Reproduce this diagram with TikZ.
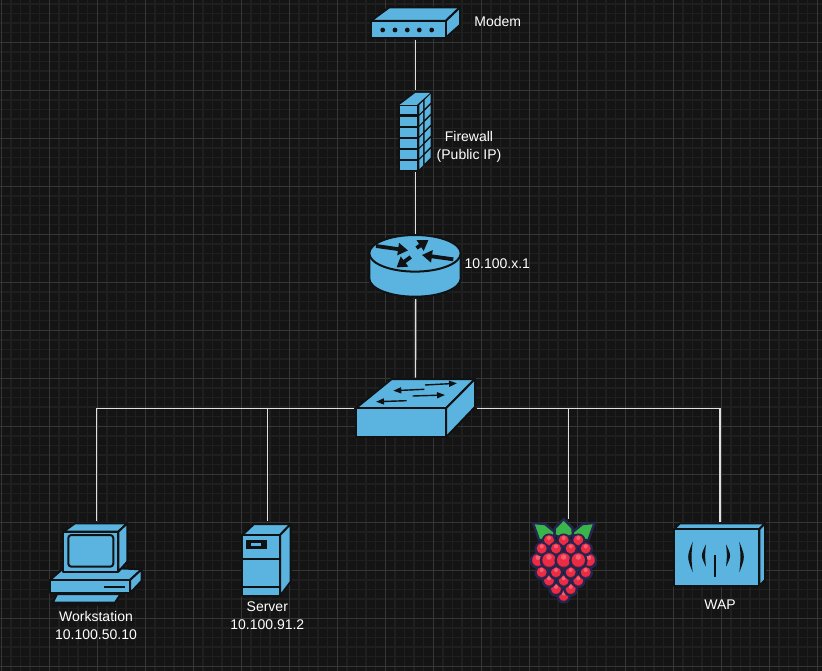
\documentclass[tikz,border=0pt]{standalone}
\usepackage{fontspec}
\setmainfont{Liberation Sans}
\usetikzlibrary{positioning}
\usetikzlibrary{arrows.meta}

\definecolor{bgdark}{HTML}{141414}
\definecolor{gridminor}{HTML}{1F1F1F}
\definecolor{gridmajor}{HTML}{363636}
\definecolor{iconblue}{HTML}{5AB4DF}
\definecolor{iconline}{HTML}{101214}
\definecolor{berryline}{HTML}{25264F}
\definecolor{berrydark}{HTML}{B51D38}
\definecolor{berryred}{HTML}{EC2B45}
\definecolor{berrypink}{HTML}{F4606F}
\definecolor{leafgreen}{HTML}{3AB54A}

\tikzset{
    hit/.style={inner sep=0pt, outer sep=0pt},
    body/.style={draw=iconline, fill=iconblue, line width=2pt, line join=round},
    link/.style={draw=white!88!black, line width=1.4pt},
    lbl/.style={text=white, align=center, inner sep=0pt, font=\fontsize{14}{18}\selectfont},
    bigflow/.style={draw=iconline, line width=3.8pt, -{Triangle[length=10pt,width=12pt]}},
    thinflow/.style={draw=iconline, line width=1.4pt, -{Triangle[length=8pt,width=6pt]}},
    leaf/.style={fill=leafgreen, draw=berryline, line width=2.4pt, line join=round}
}

\begin{document}
\begin{tikzpicture}[x=1pt, y=-1pt]
    \useasboundingbox (0,0) rectangle (822,671);
    \fill[bgdark] (0,0) rectangle (822,671);

    % grid
    \foreach \k in {0,...,85}
        \draw[gridminor, line width=1.4pt] (1.3+9.6*\k,0) -- (1.3+9.6*\k,671);
    \foreach \k in {-5,...,65}
        \draw[gridminor, line width=1.4pt] (0,42.3+9.6*\k) -- (822,42.3+9.6*\k);
    \foreach \k in {0,...,17}
        \draw[gridmajor, line width=0.8pt] (1.3+48*\k,0) -- (1.3+48*\k,671);
    \foreach \k in {-1,...,13}
        \draw[gridmajor, line width=0.8pt] (0,42.3+48*\k) -- (822,42.3+48*\k);

    % anchors for the connectors
    \node[hit, minimum width=92pt, minimum height=34pt]  (modem)       at (415.7,23)  {};
    \node[hit, minimum width=44pt, minimum height=82pt]  (firewall)    at (415.7,131) {};
    \node[hit, minimum width=92pt, minimum height=64pt]  (router)      at (415.7,267) {};
    \node[hit, minimum width=123pt, minimum height=62pt] (switch)      at (415.5,408.7) {};
    \node[hit, minimum width=92pt, minimum height=88pt]  (workstation) at (96.4,565)  {};
    \node[hit, minimum width=50pt, minimum height=78pt]  (server)      at (267.4,560) {};
    \node[hit, minimum width=60pt, minimum height=88pt]  (pi)          at (568.2,563) {};
    \node[hit, minimum width=92pt, minimum height=66pt]  (wap)         at (720,554.7) {};
    \coordinate (wapstub) at (720,498);

    \draw[link] (modem.south) -- (firewall.north);
    \draw[link] (firewall.south) -- (router.north);
    \draw[link] (router.south) -- (switch.north);
    \draw[link] (switch.west) -| (workstation.north);
    \draw[link] (switch.west) -| (server.north);
    \draw[link] (switch.east) -| (pi.north);
    \draw[link] (switch.east) -| (wap.north);
    \draw[link, line width=2.4pt] (wapstub) -- (wap.north);

    % modem
    \draw[body] (370.7,21) -- (389.3,7.3) -- (460,7.3) -- (445.7,21) -- cycle;
    \draw[body] (445.7,21) -- (460,7.3) -- (460,25) -- (445.7,37.7) -- cycle;
    \draw[body] (370.7,21) rectangle (445.7,37.7);
    \foreach \dx in {382.7,395,407.3,419.3,431.7}
        \fill[iconline] (\dx,30) circle (2.4pt);

    % firewall
    \fill[iconline] (398,104.5) -- (415,91.5) -- (432,91.5) -- (432,157.5) -- (418,171) -- (398,171) -- cycle;
    \fill[iconblue] (399.5,105) -- (415.3,93) -- (430,93) -- (416.7,105) -- cycle;
    \foreach \wy in {105.8,117,128,139,150.3,161.5}
        \fill[iconblue] (399.5,\wy) rectangle (416.7,\wy+8.6);
    \foreach \k in {0,...,5} {
        \fill[iconblue] (419.4,105+11*\k) -- (423,101.4+11*\k) -- (423,110.4+11*\k) -- (419.4,114+11*\k) -- cycle;
        \fill[iconblue] (424.6,100+11*\k) -- (430.6,94+11*\k) -- (430.6,102.6+11*\k) -- (424.6,108.6+11*\k) -- cycle;
    }

    % router
    \draw[body] (369.3,253.3) -- (369.3,278.4) arc[start angle=180, end angle=360, x radius=45.7pt, y radius=18.3pt] -- (460.7,253.3) -- cycle;
    \draw[body] (415,253.3) ellipse[x radius=45.7pt, y radius=18.3pt];
    \draw[bigflow] (376,246) -- (408,250.5);
    \draw[bigflow] (410.7,257) -- (396.5,267.5);
    \draw[bigflow] (416.5,248) -- (428.5,240);
    \draw[bigflow] (453.3,259.3) -- (422,255);

    % switch
    \draw[body] (355.7,408.3) -- (391.7,379) -- (475,379) -- (446,408.3) -- cycle;
    \draw[body] (446,408.3) -- (475,379) -- (475,407) -- (446,437.3) -- cycle;
    \draw[body] (355.7,408.3) rectangle (446,437.3);
    \draw[thinflow] (425,385) -- (457,383.3);
    \draw[thinflow] (424.3,389.3) -- (393.3,390.7);
    \draw[thinflow] (412.7,396) -- (445,395);
    \draw[thinflow] (406.7,400.7) -- (376,401.7);

    % workstation
    \draw[body] (63.3,568.3) -- (50,580) -- (130,580) -- (141.7,569.3) -- (118,568.3) -- cycle;
    \draw[body] (130,580) -- (141.7,569.3) -- (141.7,580.7) -- (130,593.3) -- cycle;
    \draw[body] (50,580) rectangle (130,593.3);
    \draw[iconline, line width=2pt] (104,587.3) -- (125,587.3);
    \draw[body] (63.3,531.7) -- (75,523.3) -- (127.3,523.3) -- (118.3,531.7) -- cycle;
    \draw[body] (118.3,531.7) -- (127.3,523.3) -- (127.3,561.7) -- (118.3,571.7) -- cycle;
    \draw[body] (63.3,531.7) rectangle (118.3,571.7);
    \draw[body, rounded corners=3pt] (68.3,535) rectangle (113.3,566.7);
    \draw[body] (57,594) -- (120.7,594) -- (115,602.7) -- (52.7,602.7) -- cycle;
    \draw[body] (52.7,602.7) rectangle (115,605);

    % server
    \draw[body] (242.3,535) -- (254,524) -- (290.7,524) -- (280,535) -- cycle;
    \draw[body] (280,535) -- (290.7,524) -- (290.7,581.7) -- (280,596) -- cycle;
    \draw[body] (242.3,535) rectangle (280,596);
    \draw[iconline, line width=2pt] (242.3,559) -- (280,559) (242.3,586.7) -- (280,586.7);
    \fill[iconline] (245.7,540) rectangle (266.7,549);
    \fill[iconblue] (250.7,543.3) rectangle (260.7,545.7);

    % raspberry
    \draw[leaf] (533,523) -- (545,524) -- (556,533) -- (549,540) -- (539,540) -- cycle;
    \draw[leaf] (594.5,523) -- (582.5,524) -- (571.5,533) -- (578.5,540) -- (588.5,540) -- cycle;
    \draw[leaf] (555,528) -- (563.7,519) -- (572.4,528) -- (573,535) -- (563.7,539) -- (554.4,535) -- cycle;
    \foreach \bx/\by/\br in {
        538/560.7/7, 589/560.7/7,
        549/540.7/6, 563.7/540.7/6, 578.3/540.7/6,
        541.7/549/6, 556/549/6, 570.7/549/6, 585.7/549/6,
        563.7/596.3/6,
        556/589.5/6, 570.7/589.5/6,
        549/581/6, 563.7/581/6, 578.3/581/6,
        541.7/572.7/6, 556/572.7/6, 570.7/572.7/6, 585.7/572.7/6,
        549/560.7/8, 563.7/560.7/8, 578.3/560.7/8} {
        \draw[berryline, fill=berrydark, line width=2.4pt] (\bx,\by) circle (\br pt);
        \fill[berryred] (\bx,\by-0.12*\br) circle (0.82*\br pt);
        \fill[berrypink] (\bx,\by-0.45*\br) circle (0.34*\br pt);
    }

    % wap
    \draw[body] (674,529.3) -- (680,523.3) -- (765,523.3) -- (759.3,529.3) -- cycle;
    \draw[body] (759.3,529.3) -- (765,523.3) -- (765,580) -- (759.3,586) -- cycle;
    \draw[body] (674,529.3) rectangle (759.3,586);
    \foreach \tx/\ty/\th/\ox/\ix in {
        692.7/541.7/30.6/-6/-1.6, 706/544.3/22.4/-5.4/-1.2,
        726/544.3/22.4/5.4/1.2, 739.3/541.7/30.6/6/1.6}
        \fill[iconline] (\tx,\ty) .. controls (\tx+\ox,\ty+0.5*\th) .. (\tx,\ty+\th) .. controls (\tx+\ix,\ty+0.5*\th) .. cycle;
    \draw[iconline, line width=2pt] (715,555) -- (715,577);

    % labels
    \node[lbl] (modemlbl)    at (497.8,21)  {Modem};
    \node[lbl] (firewalllbl) at (469,146.5) {Firewall\\(Public IP)};
    \node[lbl] (routerlbl)   at (497.3,264) {10.100.x.1};
    \node[lbl] (worklbl)     at (96,625)    {Workstation\\10.100.50.10};
    \node[lbl] (serverlbl)   at (267.3,616) {Server\\10.100.91.2};
    \node[lbl] (waplbl)      at (720,604.3) {WAP};
\end{tikzpicture}
\end{document}
